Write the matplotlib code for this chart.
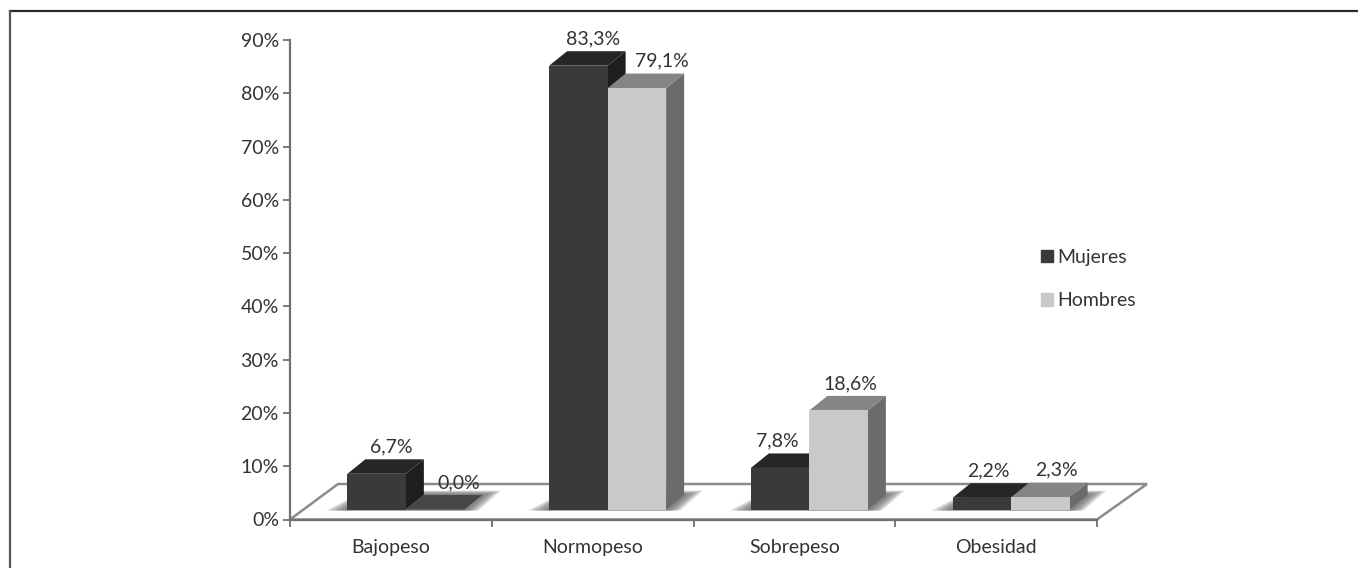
#! /usr/bin/env python
#  Estado nutricional por sexo - columnas con efecto 3D sobre un suelo

import matplotlib
matplotlib.use("Agg")
import matplotlib.pyplot as plt
from matplotlib.patches import Polygon

categorias = ["Bajopeso", "Normopeso", "Sobrepeso", "Obesidad"]
mujeres = [6.7, 83.3, 7.8, 2.2]
hombres = [0.0, 79.1, 18.6, 2.3]
etiq_mujeres = ["6,7%", "83,3%", "7,8%", "2,2%"]
etiq_hombres = ["0,0%", "79,1%", "18,6%", "2,3%"]
yticks = [0, 10, 20, 30, 40, 50, 60, 70, 80, 90]

# desplazamiento a mano de cada etiqueta respecto a su columna (px)
off_mujeres = [(15, 27), (15, 27), (-3, 27), (7, 27)]
off_hombres = [(24, 27), (25, 27), (12, 27), (16, 27)]

W, H = 1358, 568
plt.rcParams['font.family'] = ['Lato', 'DejaVu Sans']
TXT = '#333333'
FS = 14

fig = plt.figure(figsize=(W / 100, H / 100), dpi=100)
ax = fig.add_axes([290 / W, 1 - 519.5 / H, 807 / W, 479.5 / H])
ax.set_xlim(0, 4)
ax.set_ylim(0, 90)

# profundidad del efecto 3D en unidades de los datos
px = 4 / 807
py = 90 / 479.5
dx, dy = 18 * px, 14.5 * py
base = 10 * py
ancho = 58.5 * px
desp = 15 * px


def poly(pts, color, z=3, alpha=1.0):
    ax.add_patch(Polygon(pts, closed=True, facecolor=color, edgecolor='none',
                         alpha=alpha, zorder=z, clip_on=False))


def columna(x, v, front, top, side, z):
    y0, y1 = base, base + v
    poly([(x + ancho, y0), (x + ancho + dx, y0 + dy), (x + ancho + dx, y1 + dy), (x + ancho, y1)], side, z)
    poly([(x, y1), (x + ancho, y1), (x + ancho + dx, y1 + dy), (x + dx, y1 + dy)], top, z + 0.1)
    poly([(x, y0), (x + ancho, y0), (x + ancho, y1), (x, y1)], front, z + 0.2)


# suelo
suelo = [(0, 0), (4, 0), (4 + 50 * px, 35.5 * py), (48 * px, 35.5 * py)]
ax.add_patch(Polygon(suelo, closed=True, facecolor='white', edgecolor='#8c8c8c',
                     lw=1.8, zorder=1, clip_on=False))

# sombras sobre el suelo, varias capas para difuminarlas
for i, c in enumerate(categorias):
    x0 = i + 0.5 + desp - ancho
    x1 = x0 + 2 * ancho
    for k in range(14):
        g = (14 - k) * 1.3 * px
        s = [(x0 - g * 1.2, base - 1.0 * py), (x1 + g * 0.8, base - 1.0 * py),
             (x1 + dx + 1 * px + g, base + (19 - k * 0.3) * py), (x0 + dx, base + (19 - k * 0.3) * py)]
        poly(s, '#6a6a6a', 2, 0.11)

for i in range(len(categorias)):
    x0 = i + 0.5 + desp - ancho
    columna(x0, mujeres[i], '#3a3a3a', '#262626', '#1e1e1e', 3)
    columna(x0 + ancho, hombres[i], '#c9c9c9', '#858585', '#6b6b6b', 4)
    if hombres[i] == 0:
        # columna sin altura: solo queda la tapa
        poly([(x0 + ancho, base), (x0 + 2 * ancho, base),
              (x0 + 2 * ancho + dx, base + dy), (x0 + ancho + dx, base + dy)], '#474747', 4.5)
    ax.annotate(etiq_mujeres[i], (x0 + ancho / 2, mujeres[i] + base), xytext=off_mujeres[i],
                textcoords='offset pixels', ha='center', va='center', fontsize=FS,
                color=TXT, zorder=6, annotation_clip=False)
    ax.annotate(etiq_hombres[i], (x0 + ancho * 1.5, hombres[i] + base), xytext=off_hombres[i],
                textcoords='offset pixels', ha='center', va='center', fontsize=FS,
                color=TXT, zorder=6, annotation_clip=False)

# ejes
for s in ['top', 'right']:
    ax.spines[s].set_visible(False)
for s in ['left', 'bottom']:
    ax.spines[s].set_color('#707070')
    ax.spines[s].set_linewidth(1.6)
ax.patch.set_alpha(0)
ax.set_yticks(yticks)
ax.set_yticklabels(["%d%%" % t for t in yticks], fontsize=FS, color=TXT)
ax.set_xticks(range(5))
ax.set_xticklabels([])
ax.set_xticks([i + 0.5 for i in range(4)], minor=True)
ax.set_xticklabels(categorias, minor=True, fontsize=FS, color=TXT)
ax.tick_params(axis='x', which='minor', length=0, pad=14)
ax.tick_params(axis='x', which='major', length=5, width=1.3, color='#707070')
ax.tick_params(axis='y', length=5, width=1.3, color='#707070', pad=3)

# leyenda
leg = ax.legend(handles=[plt.Rectangle((0, 0), 1, 1, color='#3a3a3a'),
                         plt.Rectangle((0, 0), 1, 1, color='#c9c9c9')],
                labels=["Mujeres", "Hombres"], loc='upper left',
                bbox_to_anchor=((1041 - 290) / 807, (519.5 - 249) / 479.5),
                frameon=False, fontsize=FS, labelcolor=TXT,
                handlelength=0.62, handleheight=0.62, handletextpad=0.2,
                labelspacing=1.36, borderpad=0, borderaxespad=0)

# marco de la figura: arriba e izquierda
fig.add_artist(plt.Line2D([10 / W, 1], [1 - 10.5 / H] * 2, color='#2a2a2a', lw=1.6))
fig.add_artist(plt.Line2D([10 / W, 10 / W], [0, 1 - 10.5 / H], color='#555555', lw=1.6))

fig.savefig("out.png", dpi=100)
